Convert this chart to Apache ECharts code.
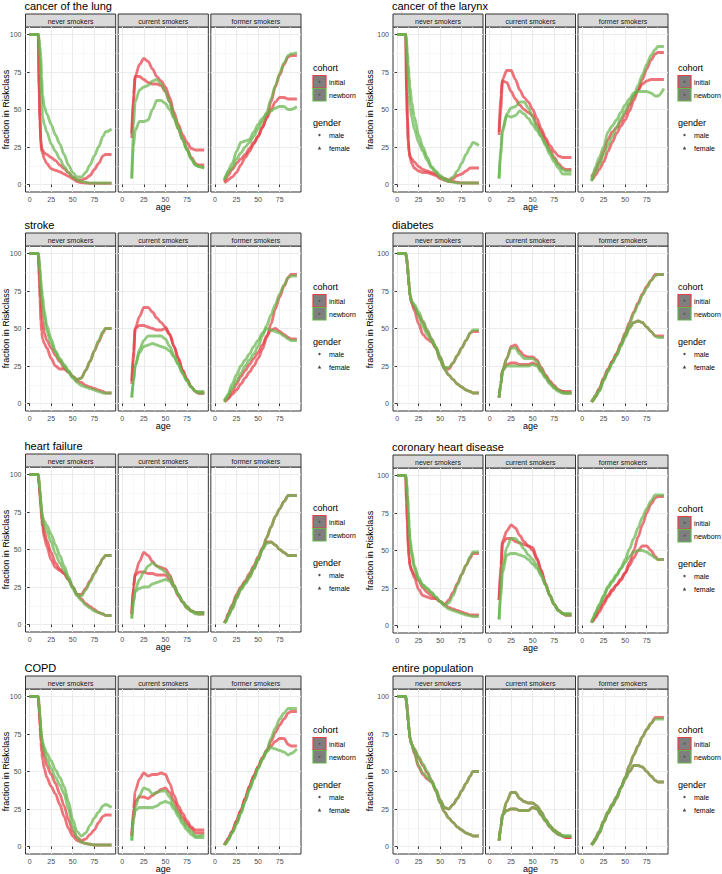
<!DOCTYPE html>
<html><head><meta charset="utf-8">
<script src="https://cdn.jsdelivr.net/npm/echarts@6/dist/echarts.min.js"></script>
<style>html,body{margin:0;padding:0;background:#fff}#c{width:722px;height:874px}</style>
</head><body><div id="c"></div>
<script>
// ---------- data ----------
const PANEL_TITLES = ['cancer of the lung','cancer of the larynx','stroke','diabetes','heart failure','coronary heart disease','COPD','entire population'];
const FACETS = ['never smokers','current smokers','former smokers'];
const COHORTS = ['initial','newborn'];
const GENDERS = ['male','female'];
const X_TICKS = [0,25,50,75];
const Y_TICKS = [0,25,50,75,100];
const AGE_N = [0,10,11,12,13,14,15,17,20,25,30,35,40,45,50,55,60,65,70,75,80,85,88,95];
const AGE_S = [11,13,15,20,25,30,35,40,45,50,55,60,65,70,75,80,85,88,95];

const lung_never_ini_m = [100,100,68,45,30,24,23,21,20,18,16,13,10.5,8,5,3,3,4,6,10,14,19,20,20];
const lung_never_ini_f = [100,100,65,42,28,22,21,17,14,10.5,9.5,8.5,7,5.5,3.8,2,1.2,1,0.8,0.7,0.7,0.7,0.7,0.7];
const lung_never_new_m = [100,100,97,92,85,72,60,52,47,40,33,27,20,13,8,5,5,8,13,19,25,32,35,37];
const lung_never_new_f = [100,100,95,85,72,58,45,40,35,27,22,17,12,8,5,3,2,1.5,1,1,1,1,1,1];
const lung_curr_ini_m = [34,60,72,80,84,82,77,72,69,65,58,48,40,33,28,24,23,23,23];
const lung_curr_ini_f = [31,55,72,72,70,68,67,67,66,62,55,45,37,30,24,18,14,13,13];
const lung_curr_new_m = [4,40,55,63,65,66,69,70,67,62,55,46,38,30,23,17,13,12,11];
const lung_curr_new_f = [4,25,36,42,42,43,50,56,56,54,50,44,37,30,23,17,13,12,11];
const lung_form_ini_m = [1,2,3,5,8,13,18,22,27,32,38,45,55,65,73,80,85,86,86];
const lung_form_ini_f = [2,4,6,10,14,17,20,24,28,32,38,44,50,55,58,58,57,57,57];
const lung_form_new_m = [3,6,8,11,17,21,25,28,32,37,42,48,57,66,74,81,86,87,88];
const lung_form_new_f = [3,6,9,14,22,28,29,30,35,40,44,47,49,51,52,52,50,50,52];

const lar_never_ini_m = [100,100,65,45,30,22,19,17,15,12,10,9,8,7,5,4,3,4,6,7,9,11,11,11];
const lar_never_ini_f = [100,100,62,42,28,21,18,14,11,9,8,8,7,6,4,3,2,2,1.5,1,1,1,1,1];
const lar_never_new_m = [100,100,95,88,80,72,65,55,45,33,25,18,12,9,6,4,3,5,9,14,20,25,28,26];
const lar_never_new_f = [100,100,90,80,68,60,52,45,37,28,22,16,11,8,5,3,2,1.5,1,1,1,1,1,1];
const lar_curr_ini_m = [35,60,70,76,76,70,63,58,55,50,44,37,31,26,22,19,18,18,18];
const lar_curr_ini_f = [33,50,69,68,62,57,53,50,48,46,40,35,29,23,18,14,11,10,10];
const lar_curr_new_m = [4,25,37,47,51,52,55,55,51,45,38,32,26,20,15,11,7,7,7];
const lar_curr_new_f = [4,20,35,46,45,46,49,47,44,40,36,32,27,22,17,13,10,9,9];
const lar_form_ini_m = [3,4,6,10,15,22,28,34,39,43,49,56,63,70,77,83,87,88,88];
const lar_form_ini_f = [5,7,9,15,22,30,35,38,42,47,53,59,63,67,69,70,70,70,70];
const lar_form_new_m = [2,5,8,13,20,26,32,38,44,49,54,59,66,73,80,86,90,92,92];
const lar_form_new_f = [3,7,11,18,25,35,39,43,48,53,57,61,62,62,62,61,59,59,64];

const str_never_ini_m = [100,100,90,80,70,60,55,47,42,37,32,28,24,21,18,16,17,22,28,35,41,47,50,50];
const str_never_ini_f = [100,100,85,70,55,48,43,40,37,30,25,23,23,21,18,15,14,12,11,10,9,8,7,7];
const str_never_new_m = [100,100,97,90,83,76,72,62,52,43,35,30,26,22,18,16,17,22,28,35,42,48,50,50];
const str_never_new_f = [100,100,95,87,78,70,65,57,48,40,34,29,25,21,17,14,12,11,10,9,8,7,7,7];
const str_curr_ini_m = [15,35,50,58,64,64,61,57,54,51,46,38,30,22,16,11,8,7,7];
const str_curr_ini_f = [13,30,50,52,52,51,50,49,49,50,46,38,30,22,16,11,8,7,7];
const str_curr_new_m = [4,15,25,36,42,45,45,45,45,43,38,32,26,20,15,11,8,8,8];
const str_curr_new_f = [4,15,25,34,38,39,40,39,38,37,35,31,26,20,15,11,8,7,7];
const str_form_ini_m = [1,2,3,6,9,13,17,21,25,30,36,44,53,63,71,78,84,86,86];
const str_form_ini_f = [2,3,4,8,13,18,22,26,30,34,39,45,49,50,48,46,44,43,43];
const str_form_new_m = [1,3,5,10,15,20,25,29,33,38,45,52,59,66,73,79,84,85,85];
const str_form_new_f = [2,4,6,13,19,25,29,33,38,42,47,50,49,48,47,45,43,42,42];

const dia_never_ini_m = [100,100,97,92,85,78,72,67,62,53,46,43,41,37,31,24,23,27,32,37,42,47,48,48];
const dia_never_ini_f = [100,100,97,92,85,78,72,67,64,59,54,48,43,37,29,23,19,16,13,11,9,8,7,7];
const dia_never_new_m = [100,100,97,92,85,78,72,68,65,58,51,46,42,38,31,24,24,27,32,37,42,47,49,49];
const dia_never_new_f = [100,100,97,92,85,78,72,68,66,61,55,49,43,37,29,23,19,16,13,11,9,8,7,7];
const dia_curr_ini_m = [4,13,22,30,38,39,35,32,31,31,29,24,19,15,12,9,8,8,8];
const dia_curr_ini_f = [4,13,22,26,27,27,26,26,26,27,26,22,18,14,11,9,8,7,7];
const dia_curr_new_m = [4,13,22,30,37,37,33,30,30,30,28,23,18,14,11,9,7,7,7];
const dia_curr_new_f = [4,13,22,25,25,25,25,25,25,26,25,21,17,13,10,8,7,7,7];
const dia_form_ini_m = [1,2,4,9,16,22,28,33,40,47,54,61,67,73,78,82,86,86,86];
const dia_form_ini_f = [1,3,5,10,17,23,28,33,39,45,51,54,55,54,51,48,45,45,45];
const dia_form_new_m = [1,2,4,8,15,21,27,32,39,46,53,60,66,72,77,82,85,86,86];
const dia_form_new_f = [1,3,5,9,16,22,27,32,38,44,50,54,55,54,51,48,45,44,44];

const hf_never_ini_m = [100,100,93,87,80,74,68,62,56,48,41,37,34,30,25,20,20,24,29,34,39,44,46,46];
const hf_never_ini_f = [100,100,93,85,78,70,65,58,52,43,38,36,34,30,25,20,17,14,12,10,8,7,6,6];
const hf_never_new_m = [100,100,96,90,83,77,72,69,66,60,53,46,39,32,25,20,19,23,28,34,39,44,46,46];
const hf_never_new_f = [100,100,96,89,81,75,70,66,62,55,47,41,36,30,24,19,16,13,11,9,8,7,6,6];
const hf_curr_ini_m = [7,25,34,42,48,46,42,39,38,37,33,26,20,15,12,9,8,8,8];
const hf_curr_ini_f = [7,25,33,35,35,34,34,33,33,33,30,25,19,15,11,9,8,7,7];
const hf_curr_new_m = [4,15,23,30,35,39,41,39,37,35,32,26,20,15,12,9,8,8,8];
const hf_curr_new_f = [4,15,22,24,25,25,27,28,29,30,29,25,20,15,11,9,7,7,7];
const hf_form_ini_m = [1,3,6,11,18,24,28,32,37,43,50,58,65,72,77,82,86,86,86];
const hf_form_ini_f = [1,3,7,13,20,25,29,34,39,45,51,55,55,53,50,48,46,46,46];
const hf_form_new_m = [1,2,5,10,17,23,27,31,37,43,50,58,65,72,77,82,86,86,86];
const hf_form_new_f = [1,2,6,12,19,24,28,33,38,44,50,54,55,53,50,48,46,46,46];

const chd_never_ini_m = [100,100,83,70,55,46,40,37,34,30,25,22,20,18,16,14,17,22,28,34,40,45,48,48];
const chd_never_ini_f = [100,100,82,68,52,44,40,36,32,24,20,19,18,18,16,14,12,11,10,9,8,7,7,7];
const chd_never_new_m = [100,100,95,88,78,67,58,50,40,32,27,24,22,19,16,14,15,20,27,34,40,46,49,49];
const chd_never_new_f = [100,100,95,87,76,65,55,47,38,30,27,25,22,19,16,13,11,10,9,8,7,6.5,6,6];
const chd_curr_ini_m = [17,40,56,63,67,65,60,56,53,52,45,37,28,20,14,10,8,7,7];
const chd_curr_ini_f = [17,35,55,58,58,56,55,54,53,50,44,36,27,20,14,10,8,7,7];
const chd_curr_new_m = [4,25,40,52,58,58,55,51,47,44,40,34,27,20,14,10,8,8,8];
const chd_curr_new_f = [4,20,35,47,48,48,47,46,44,41,38,33,27,20,14,10,8,7,7];
const chd_form_ini_m = [2,3,5,9,14,19,23,27,30,35,42,50,59,67,75,81,85,86,86];
const chd_form_ini_f = [2,4,6,11,16,20,24,27,31,35,40,45,50,53,53,50,46,44,44];
const chd_form_new_m = [2,5,8,13,19,25,29,33,38,44,51,58,65,72,78,83,87,87,87];
const chd_form_new_f = [2,5,8,14,20,26,30,34,38,42,46,49,50,50,49,47,45,44,44];

const copd_never_ini_m = [100,100,92,84,76,70,66,60,54,48,42,35,27,18,10,6,4,5,8,11,16,20,21,21];
const copd_never_ini_f = [100,100,90,80,70,63,58,52,46,40,35,28,20,12,7,4,3,2,1.5,1,1,1,1,1];
const copd_never_new_m = [100,100,95,88,80,74,70,66,62,57,51,46,40,30,18,10,7,9,14,19,23,27,28,26];
const copd_never_new_f = [100,100,95,87,78,72,68,63,58,52,46,41,35,25,13,6,3,2,1.5,1,1,1,1,1];
const copd_curr_ini_m = [7,25,37,45,49,47,48,48,49,48,42,34,27,22,17,13,11,11,11];
const copd_curr_ini_f = [7,20,30,33,33,32,34,36,38,39,36,30,24,19,15,12,9,9,9];
const copd_curr_new_m = [4,18,26,34,39,38,35,36,37,37,33,27,22,17,13,10,7,7,8];
const copd_curr_new_f = [4,18,24,26,26,26,26,27,29,30,29,25,20,15,11,8,6,6,6];
const copd_form_ini_m = [1,3,5,10,17,24,32,40,47,53,59,64,70,76,81,85,89,90,90];
const copd_form_ini_f = [1,3,5,10,17,24,32,40,47,53,59,64,67,70,72,72,68,67,67];
const copd_form_new_m = [1,2,4,9,15,22,30,38,45,52,58,64,72,79,85,89,92,92,92];
const copd_form_new_f = [1,2,4,9,15,22,30,38,45,52,58,63,66,65,64,63,61,62,65];

const all_never_ini_m = [100,100,96,90,83,77,72,68,62,53,48,45,43,38,31,26,25,28,32,37,42,47,50,50];
const all_never_ini_f = [100,100,96,90,83,77,72,68,65,59,54,49,44,37,29,23,19,16,13,11,9,8,7,7];
const all_never_new_m = [100,100,96,90,83,77,72,68,63,54,49,46,43,38,31,26,25,28,32,37,42,47,50,50];
const all_never_new_f = [100,100,96,90,83,77,72,68,65,60,55,50,44,37,29,23,19,16,13,11,9,8,7,7];
const all_curr_ini_m = [4,13,21,30,36,36,32,30,29,29,27,23,18,14,11,9,7,6,6];
const all_curr_ini_f = [4,13,21,24,25,25,24,24,24,26,25,21,17,13,10,8,7,6,6];
const all_curr_new_m = [4,13,21,30,36,36,32,30,29,29,27,23,18,14,11,9,7,7,7];
const all_curr_new_f = [4,13,21,24,25,25,24,24,24,26,25,21,17,13,10,8,7,7,7];
const all_form_ini_m = [1,2,4,9,16,22,27,32,39,46,54,61,67,73,78,82,86,86,86];
const all_form_ini_f = [1,3,5,10,17,23,28,33,39,45,50,54,54,53,50,47,44,43,43];
const all_form_new_m = [1,2,4,9,16,22,27,32,39,46,54,61,67,73,78,82,85,85,85];
const all_form_new_f = [1,3,5,10,17,23,28,33,39,45,50,54,54,53,50,47,44,43,43];

// per panel: [facet][ini_m, ini_f, new_m, new_f]
const PANEL_DATA = [
  [[lung_never_ini_m,lung_never_ini_f,lung_never_new_m,lung_never_new_f],[lung_curr_ini_m,lung_curr_ini_f,lung_curr_new_m,lung_curr_new_f],[lung_form_ini_m,lung_form_ini_f,lung_form_new_m,lung_form_new_f]],
  [[lar_never_ini_m,lar_never_ini_f,lar_never_new_m,lar_never_new_f],[lar_curr_ini_m,lar_curr_ini_f,lar_curr_new_m,lar_curr_new_f],[lar_form_ini_m,lar_form_ini_f,lar_form_new_m,lar_form_new_f]],
  [[str_never_ini_m,str_never_ini_f,str_never_new_m,str_never_new_f],[str_curr_ini_m,str_curr_ini_f,str_curr_new_m,str_curr_new_f],[str_form_ini_m,str_form_ini_f,str_form_new_m,str_form_new_f]],
  [[dia_never_ini_m,dia_never_ini_f,dia_never_new_m,dia_never_new_f],[dia_curr_ini_m,dia_curr_ini_f,dia_curr_new_m,dia_curr_new_f],[dia_form_ini_m,dia_form_ini_f,dia_form_new_m,dia_form_new_f]],
  [[hf_never_ini_m,hf_never_ini_f,hf_never_new_m,hf_never_new_f],[hf_curr_ini_m,hf_curr_ini_f,hf_curr_new_m,hf_curr_new_f],[hf_form_ini_m,hf_form_ini_f,hf_form_new_m,hf_form_new_f]],
  [[chd_never_ini_m,chd_never_ini_f,chd_never_new_m,chd_never_new_f],[chd_curr_ini_m,chd_curr_ini_f,chd_curr_new_m,chd_curr_new_f],[chd_form_ini_m,chd_form_ini_f,chd_form_new_m,chd_form_new_f]],
  [[copd_never_ini_m,copd_never_ini_f,copd_never_new_m,copd_never_new_f],[copd_curr_ini_m,copd_curr_ini_f,copd_curr_new_m,copd_curr_new_f],[copd_form_ini_m,copd_form_ini_f,copd_form_new_m,copd_form_new_f]],
  [[all_never_ini_m,all_never_ini_f,all_never_new_m,all_never_new_f],[all_curr_ini_m,all_curr_ini_f,all_curr_new_m,all_curr_new_f],[all_form_ini_m,all_form_ini_f,all_form_new_m,all_form_new_f]]
];

// ---------- layout / style ----------
const FONT = 'Liberation Sans, Arial, Helvetica, sans-serif';
const RED = 'rgba(228,62,70,0.72)';
const GREEN = 'rgba(104,182,78,0.72)';
const COLS = [{x0:25.5, x1:301, legX:313, yTitleX:6}, {x0:393, x1:668, legX:678, yTitleX:370}];
const ROWS = [14, 233, 454, 676];
const STRIP_H = 13, PLOT_H = 165, GAP = 2.5;
const X_MINOR = [12.5,37.5,62.5,87.5];
const Y_MINOR = [12.5,37.5,62.5,87.5];

const grids=[], xAxes=[], yAxes=[], series=[], graphics=[];
PANEL_TITLES.forEach((title, p) => {
  const col = COLS[p % 2], stripTop = ROWS[Math.floor(p / 2)] + (p === 5 ? 1 : 0);
  const plotTop = stripTop + STRIP_H;
  const fw = (col.x1 - col.x0 - 2 * GAP) / 3;
  graphics.push({type:'text', x: col.x0 - 1, y: stripTop - 8, style:{text:title, font:'11px '+FONT, fill:'#000', verticalAlign:'middle', align:'left'}});
  graphics.push({type:'text', x: col.yTitleX, y: plotTop + PLOT_H/2, rotation: Math.PI/2, style:{text:'fraction in Riskclass', font:'9px '+FONT, fill:'#000', align:'center', verticalAlign:'middle'}});
  graphics.push({type:'text', x: (col.x0 + col.x1)/2, y: plotTop + PLOT_H + 15, style:{text:'age', font:'9px '+FONT, fill:'#000', align:'center', verticalAlign:'middle'}});
  FACETS.forEach((fname, f) => {
    const g = grids.length;
    const left = col.x0 + f * (fw + GAP);
    grids.push({left:left, top:plotTop, width:fw, height:PLOT_H, show:true, backgroundColor:'#fff', borderColor:'#333333', borderWidth:1});
    graphics.push({type:'rect', shape:{x:left, y:stripTop, width:fw, height:STRIP_H}, style:{fill:'#d9d9d9', stroke:'#333333', lineWidth:1}});
    graphics.push({type:'text', x:left + fw/2, y:stripTop + STRIP_H/2 + 0.5, style:{text:fname, font:'7px '+FONT, fill:'#1a1a1a', align:'center', verticalAlign:'middle'}});
    xAxes.push({gridIndex:g, type:'value', min:-4.75, max:99.75, position:'bottom',
      axisLine:{show:false}, axisTick:{show:true, customValues:X_TICKS, length:2.5, lineStyle:{color:'#333333'}},
      axisLabel:{customValues:X_TICKS, fontSize:7, color:'#4d4d4d', margin:4, fontFamily:FONT},
      splitLine:{show:true, lineStyle:{color:'#ebebeb', width:1}}});
    xAxes.push({gridIndex:g, type:'value', min:-4.75, max:99.75, position:'bottom',
      axisLine:{show:false}, axisTick:{show:false, customValues:X_MINOR}, axisLabel:{show:false},
      splitLine:{show:true, lineStyle:{color:'#f4f4f4', width:0.6}}});
    yAxes.push({gridIndex:g, type:'value', min:-5, max:105, position:'left',
      axisLine:{show:false}, axisTick:{show:f===0, customValues:Y_TICKS, length:2.5, lineStyle:{color:'#333333'}},
      axisLabel:{show:f===0, customValues:Y_TICKS, fontSize:7, color:'#4d4d4d', margin:4, fontFamily:FONT},
      splitLine:{show:true, lineStyle:{color:'#ebebeb', width:1}}});
    yAxes.push({gridIndex:g, type:'value', min:-5, max:105, position:'left',
      axisLine:{show:false}, axisTick:{show:false, customValues:Y_MINOR}, axisLabel:{show:false},
      splitLine:{show:true, lineStyle:{color:'#f4f4f4', width:0.6}}});
    const ages = f === 0 ? AGE_N : AGE_S;
    PANEL_DATA[p][f].forEach((vals, k) => {
      const cohort = COHORTS[k < 2 ? 0 : 1], gender = GENDERS[k % 2];
      series.push({type:'line', name: cohort + ' ' + gender, xAxisIndex: 2*g, yAxisIndex: 2*g,
        data: ages.map((a, i) => [a, vals[i]]), showSymbol:false, smooth:0.3, smoothMonotone:'x',
        lineStyle:{width:2.8, color: cohort === 'initial' ? RED : GREEN}, silent:true, animation:false});
    });
  });
  // legend
  const lx = col.legX, b = stripTop;
  graphics.push({type:'text', x:lx, y:b+54, style:{text:'cohort', font:'9px '+FONT, fill:'#000', verticalAlign:'middle'}});
  [['initial', RED, 'rgba(228,62,70,1)'], ['newborn', GREEN, 'rgba(104,182,78,1)']].forEach(([lab, c, cs], j) => {
    const by = b + 61.5 + j*13;
    graphics.push({type:'rect', shape:{x:lx, y:by, width:13, height:12.5}, style:{fill:'#7f7f7f', stroke:cs, lineWidth:1.2}});
    graphics.push({type:'circle', shape:{cx:lx+6.5, cy:by+6.25, r:1.1}, style:{fill:'#5a5a5a'}});
    graphics.push({type:'text', x:lx+16, y:by+6.5, style:{text:lab, font:'7px '+FONT, fill:'#000', verticalAlign:'middle'}});
  });
  graphics.push({type:'text', x:lx, y:b+108.5, style:{text:'gender', font:'9px '+FONT, fill:'#000', verticalAlign:'middle'}});
  graphics.push({type:'circle', shape:{cx:lx+6.5, cy:b+121, r:1.2}, style:{fill:'#4d4d4d'}});
  graphics.push({type:'text', x:lx+16, y:b+121, style:{text:GENDERS[0], font:'7px '+FONT, fill:'#000', verticalAlign:'middle'}});
  graphics.push({type:'polygon', shape:{points:[[lx+6.5,b+132.3],[lx+8.3,b+135.5],[lx+4.7,b+135.5]]}, style:{fill:'#4d4d4d'}});
  graphics.push({type:'text', x:lx+16, y:b+134, style:{text:GENDERS[1], font:'7px '+FONT, fill:'#000', verticalAlign:'middle'}});
});

const chart = echarts.init(document.getElementById('c'), null, {renderer:'svg'});
chart.setOption({
  animation:false, backgroundColor:'#fff',
  textStyle:{fontFamily:FONT},
  grid:grids, xAxis:xAxes, yAxis:yAxes, series:series,
  graphic:{elements:graphics}
});
</script></body></html>
